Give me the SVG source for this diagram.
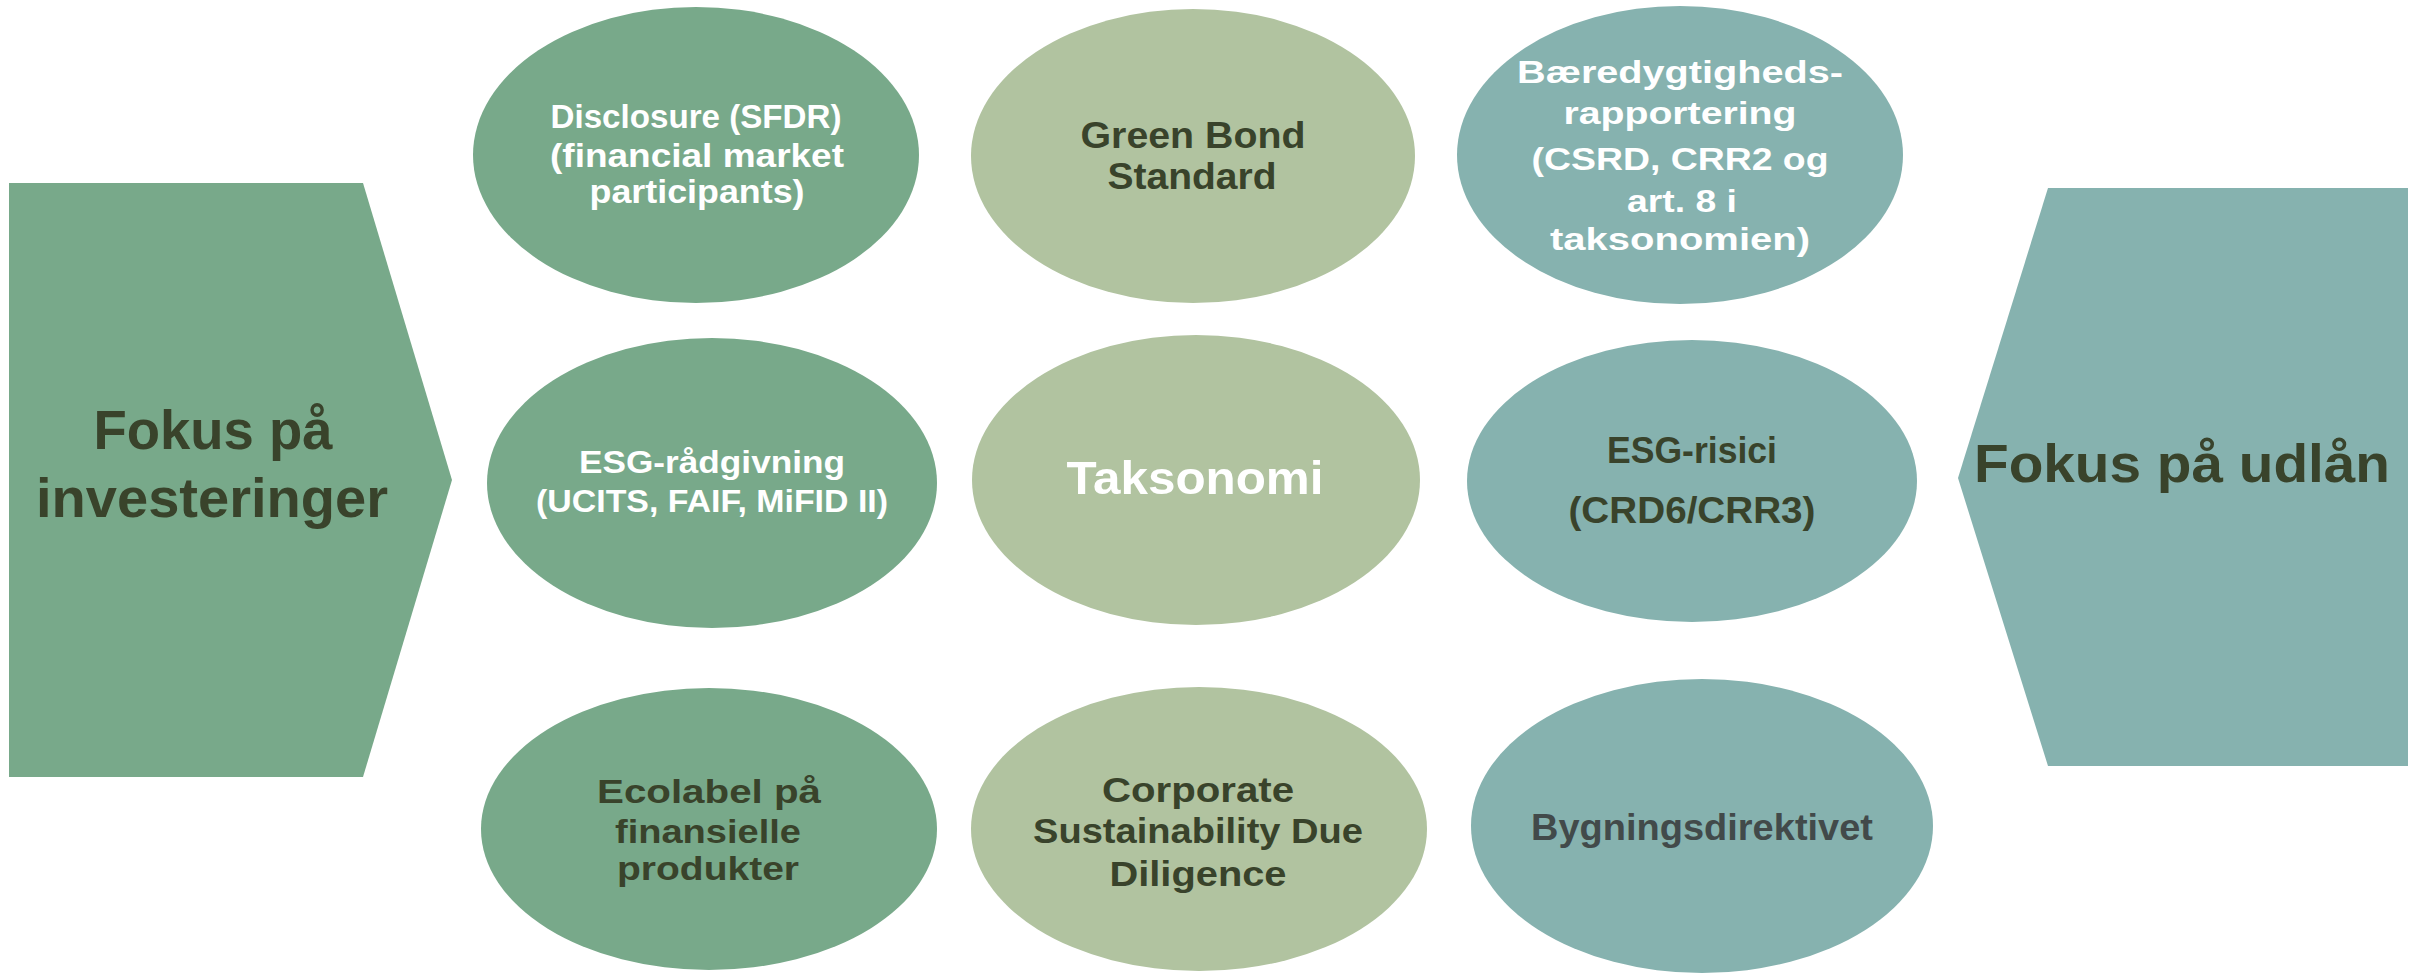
<svg xmlns="http://www.w3.org/2000/svg" width="2419" height="976" viewBox="0 0 2419 976">
<style>
text{font-family:"Liberation Sans",Arial,sans-serif;font-weight:bold;text-anchor:middle}
.dg{fill:#78A98A}.lg{fill:#B1C3A0}.tl{fill:#86B2AF}
.w{fill:#FFFFFF}.d{fill:#39432B}.g{fill:#424A4A}
</style>
<rect width="2419" height="976" fill="#FFFFFF"/>
<g id="focus-investments">
<polygon class="dg" points="9,183 363,183 452,480 363,777 9,777"/>
<text class="d" x="213" y="449" font-size="55" textLength="239" lengthAdjust="spacingAndGlyphs">Fokus på</text>
<text class="d" x="212" y="517" font-size="55" textLength="352" lengthAdjust="spacingAndGlyphs">investeringer</text>
</g>
<g id="focus-lending">
<polygon class="tl" points="2048,188 2408,188 2408,766 2048,766 1958,478"/>
<text class="d" x="2182" y="482" font-size="54" textLength="416" lengthAdjust="spacingAndGlyphs">Fokus på udlån</text>
</g>
<g id="disclosure">
<ellipse class="dg" cx="696" cy="155" rx="223" ry="148"/>
<text class="w" x="696" y="128" font-size="33" textLength="291" lengthAdjust="spacingAndGlyphs">Disclosure (SFDR)</text>
<text class="w" x="697" y="167" font-size="33" textLength="294" lengthAdjust="spacingAndGlyphs">(financial market</text>
<text class="w" x="697" y="203" font-size="33" textLength="215" lengthAdjust="spacingAndGlyphs">participants)</text>
</g>
<g id="esg-radgivning">
<ellipse class="dg" cx="712" cy="483" rx="225" ry="145"/>
<text class="w" x="712" y="473" font-size="32" textLength="266" lengthAdjust="spacingAndGlyphs">ESG-rådgivning</text>
<text class="w" x="712" y="512" font-size="32" textLength="352" lengthAdjust="spacingAndGlyphs">(UCITS, FAIF, MiFID II)</text>
</g>
<g id="ecolabel">
<ellipse class="dg" cx="709" cy="829" rx="228" ry="141"/>
<text class="d" x="709" y="803" font-size="34" textLength="224" lengthAdjust="spacingAndGlyphs">Ecolabel på</text>
<text class="d" x="708" y="843" font-size="34" textLength="186" lengthAdjust="spacingAndGlyphs">finansielle</text>
<text class="d" x="708" y="880" font-size="34" textLength="182" lengthAdjust="spacingAndGlyphs">produkter</text>
</g>
<g id="green-bond">
<ellipse class="lg" cx="1193" cy="156" rx="222" ry="147"/>
<text class="d" x="1193" y="148" font-size="37" textLength="225" lengthAdjust="spacingAndGlyphs">Green Bond</text>
<text class="d" x="1192" y="189" font-size="37" textLength="169" lengthAdjust="spacingAndGlyphs">Standard</text>
</g>
<g id="taksonomi">
<ellipse class="lg" cx="1196" cy="480" rx="224" ry="145"/>
<text class="w" x="1195" y="494" font-size="47" textLength="257" lengthAdjust="spacingAndGlyphs">Taksonomi</text>
</g>
<g id="csdd">
<ellipse class="lg" cx="1199" cy="829" rx="228" ry="142"/>
<text class="d" x="1198" y="802" font-size="35" textLength="192" lengthAdjust="spacingAndGlyphs">Corporate</text>
<text class="d" x="1198" y="843" font-size="35" textLength="330" lengthAdjust="spacingAndGlyphs">Sustainability Due</text>
<text class="d" x="1198" y="886" font-size="35" textLength="177" lengthAdjust="spacingAndGlyphs">Diligence</text>
</g>
<g id="baeredygtighed">
<ellipse class="tl" cx="1680" cy="155" rx="223" ry="149"/>
<text class="w" x="1680" y="83" font-size="31" textLength="326" lengthAdjust="spacingAndGlyphs">Bæredygtigheds-</text>
<text class="w" x="1680" y="124" font-size="31" textLength="233" lengthAdjust="spacingAndGlyphs">rapportering</text>
<text class="w" x="1680" y="170" font-size="31" textLength="297" lengthAdjust="spacingAndGlyphs">(CSRD, CRR2 og</text>
<text class="w" x="1682" y="212" font-size="31" textLength="110" lengthAdjust="spacingAndGlyphs">art. 8 i</text>
<text class="w" x="1680" y="250" font-size="31" textLength="260" lengthAdjust="spacingAndGlyphs">taksonomien)</text>
</g>
<g id="esg-risici">
<ellipse class="tl" cx="1692" cy="481" rx="225" ry="141"/>
<text class="d" x="1692" y="463" font-size="37" textLength="170" lengthAdjust="spacingAndGlyphs">ESG-risici</text>
<text class="d" x="1692" y="523" font-size="37" textLength="247" lengthAdjust="spacingAndGlyphs">(CRD6/CRR3)</text>
</g>
<g id="bygningsdirektivet">
<ellipse class="tl" cx="1702" cy="826" rx="231" ry="147"/>
<text class="g" x="1702" y="840" font-size="37" textLength="342" lengthAdjust="spacingAndGlyphs">Bygningsdirektivet</text>
</g>
</svg>
